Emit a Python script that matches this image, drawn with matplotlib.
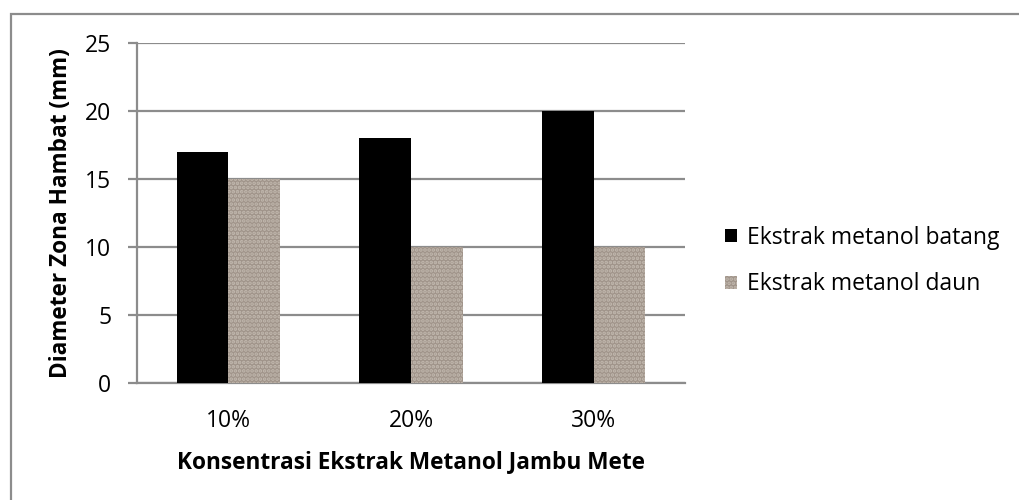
import matplotlib.pyplot as plt
import matplotlib.patches as patches
import numpy as np

plt.rcParams['font.family'] = ['Open Sans', 'DejaVu Sans']
plt.rcParams['hatch.linewidth'] = 1.8

# Data
categories = ['10%', '20%', '30%']
batang = [17, 18, 20]
daun = [15, 10, 10]
series_labels = ['Ekstrak metanol batang', 'Ekstrak metanol daun']
y_ticks = [0, 5, 10, 15, 20, 25]

grid_color = '#8c8c8c'
tex_face = '#a0948a'
tex_hatch = '#c2b9af'
fs = 16.5
fs_bold = 16.3

fig = plt.figure(figsize=(10.19, 5.0), dpi=100)
ax = fig.add_axes([137 / 1019, 1 - 382.5 / 500, 548 / 1019, 339.5 / 500])

x = np.arange(len(categories))
w = 0.282
b1 = ax.bar(x - w / 2, batang, w, color='black', zorder=3)
b2 = ax.bar(x + w / 2, daun, w, color=tex_face, edgecolor=tex_hatch, hatch='....',
            linewidth=0, zorder=3)

ax.set_xlim(-0.5, len(categories) - 0.5)
ax.set_ylim(0, 25)
ax.set_yticks(y_ticks)
ax.set_xticks(x)
ax.set_xticklabels(categories)
ax.yaxis.grid(True, color=grid_color, linewidth=1.6, zorder=0)
ax.set_axisbelow(True)

for s in ['top', 'right']:
    ax.spines[s].set_visible(False)
for s in ['left', 'bottom']:
    ax.spines[s].set_color(grid_color)
    ax.spines[s].set_linewidth(1.6)

ax.tick_params(axis='y', length=6.5, width=1.6, color=grid_color, labelsize=fs, pad=12)
ax.tick_params(axis='x', length=0, labelsize=fs, pad=19)

ax.set_ylabel('Diameter Zona Hambat (mm)', fontsize=fs_bold, fontweight='bold', labelpad=8.5)
ax.set_xlabel('Konsentrasi Ekstrak Metanol Jambu Mete', fontsize=fs_bold, fontweight='bold', labelpad=12.5)

leg = ax.legend([b1, b2], series_labels, loc='center left',
                bbox_to_anchor=(725 / 1019, 1 - 261 / 500), bbox_transform=fig.transFigure,
                frameon=False, fontsize=fs, handlelength=0.52, handleheight=0.52,
                handletextpad=0.45, labelspacing=1.0, borderaxespad=0, borderpad=0)

# outer chart border (cut off at the right and bottom)
frame = patches.Rectangle((11 / 1019, -0.1), 1.2, 1 - 14 / 500 + 0.1, transform=fig.transFigure,
                          fill=False, edgecolor=grid_color, linewidth=1.6, clip_on=False)
fig.patches.append(frame)

fig.savefig('out.png', dpi=100)
